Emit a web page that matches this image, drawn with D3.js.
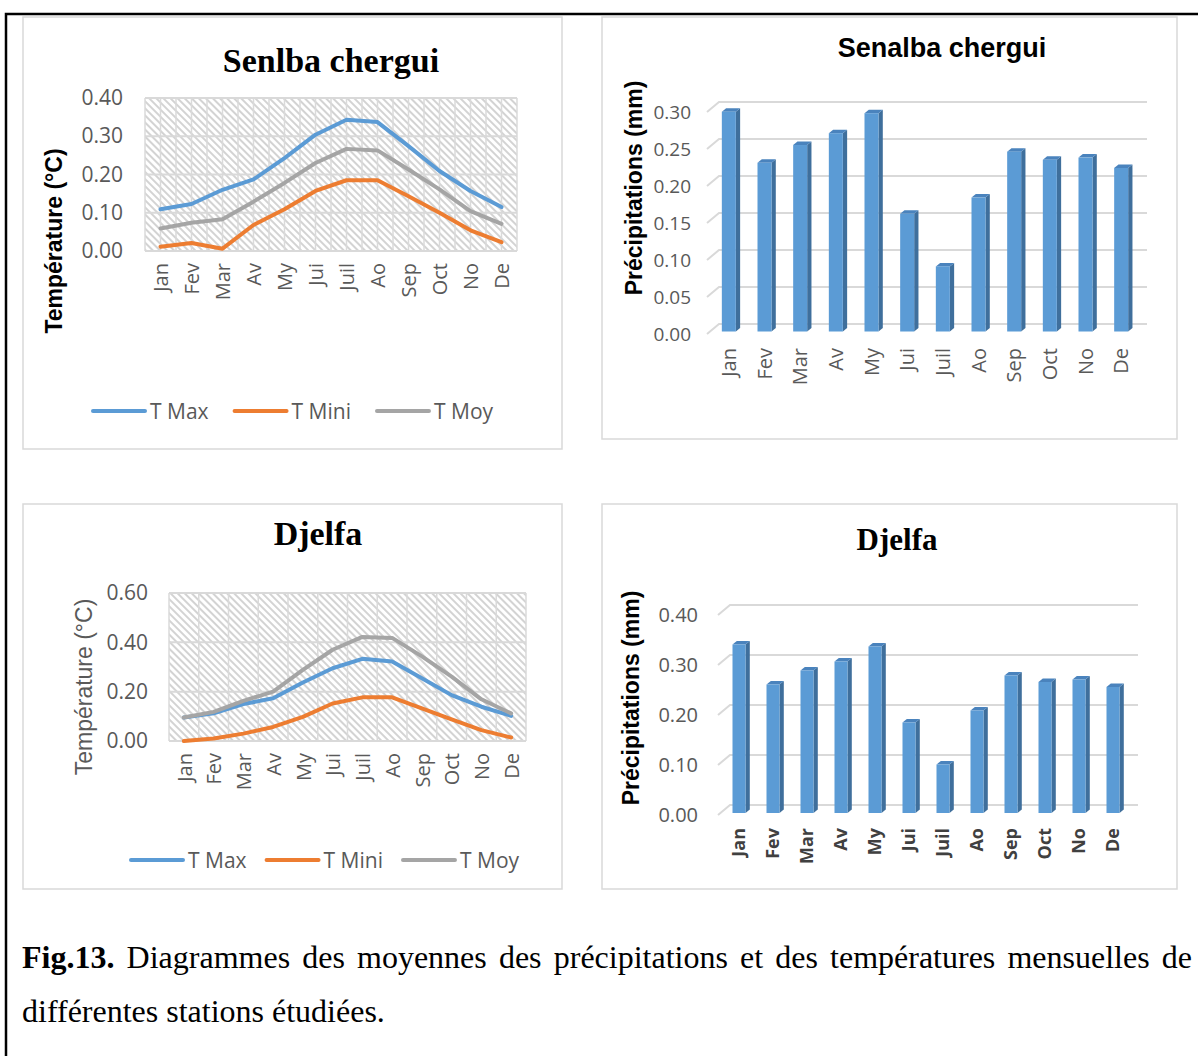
<!DOCTYPE html>
<html>
<head>
<meta charset="utf-8">
<script src="https://cdn.jsdelivr.net/npm/d3@7"></script>
<style>
  body { margin: 0; background: #fff; }
</style>
</head>
<body>
<div id="chart"></div>
<script>
// mois (axe des categories)
var months = ["Jan", "Fev", "Mar", "Av", "My", "Jui", "Juil", "Ao", "Sep", "Oct", "No", "De"];

// Senalba chergui - temperatures
var tmaxSenalba = [0.109, 0.123, 0.160, 0.187, 0.243, 0.304, 0.343, 0.337, 0.274, 0.209, 0.157, 0.115];
var tminiSenalba = [0.011, 0.021, 0.006, 0.068, 0.109, 0.157, 0.185, 0.185, 0.143, 0.100, 0.054, 0.023];
var tmoySenalba = [0.059, 0.074, 0.083, 0.129, 0.178, 0.230, 0.267, 0.263, 0.213, 0.161, 0.104, 0.071];

// Djelfa - temperatures
var tmaxDjelfa = [0.095, 0.112, 0.150, 0.173, 0.237, 0.295, 0.333, 0.322, 0.254, 0.186, 0.139, 0.102];
var tminiDjelfa = [0.000, 0.010, 0.030, 0.057, 0.098, 0.152, 0.177, 0.177, 0.132, 0.088, 0.044, 0.014];
var tmoyDjelfa = [0.095, 0.118, 0.163, 0.200, 0.288, 0.370, 0.422, 0.418, 0.343, 0.261, 0.169, 0.112];

// precipitations
var precSenalba = [0.297, 0.228, 0.252, 0.268, 0.295, 0.159, 0.088, 0.181, 0.243, 0.232, 0.235, 0.221];
var precDjelfa = [0.337, 0.257, 0.285, 0.303, 0.333, 0.181, 0.097, 0.205, 0.275, 0.262, 0.267, 0.252];

var seriesNames = ["T Max", "T Mini", "T Moy"];
var seriesColors = ["#5b9bd5", "#ed7d31", "#a5a5a5"];

var captionBold = "Fig.13.";
var captionLine1 = "Diagrammes des moyennes des précipitations et des températures mensuelles de";
var captionLine2 = "différentes stations étudiées.";

(function () {
  var width = 1198,
    height = 1056;

  var SANS = "'Open Sans', 'Liberation Sans', sans-serif";
  var ARIAL = "'Liberation Sans', Arial, sans-serif";
  var SERIF = "'Liberation Serif', 'Times New Roman', serif";
  var GRAY = "#595959";

  var svg = d3.select("#chart")
    .append("svg")
    .attr("width", width)
    .attr("height", height)
    .style("display", "block");

  svg.append("rect").attr("width", width).attr("height", height).attr("fill", "#fff");

  var defs = svg.append("defs");
  var pat = defs.append("pattern")
    .attr("id", "hatch")
    .attr("width", 5).attr("height", 5)
    .attr("patternUnits", "userSpaceOnUse")
    .attr("patternTransform", "rotate(-45)");
  pat.append("rect").attr("width", 5).attr("height", 5).attr("fill", "#fff");
  pat.append("line").attr("x1", 1).attr("y1", 0).attr("x2", 1).attr("y2", 5)
    .attr("stroke", "#d3d3d3").attr("stroke-width", 2);

  // cadre noir
  svg.append("path")
    .attr("d", "M6,1056 L6,14 L1198,14")
    .attr("fill", "none").attr("stroke", "#000").attr("stroke-width", 2.5);

  // panneaux
  var panels = [[23, 17, 539, 432], [602, 17, 575, 422], [23, 504, 539, 385], [602, 504, 575, 385]];
  svg.selectAll(".panel")
    .data(panels)
    .enter().append("rect")
    .attr("class", "panel")
    .attr("x", function (d) { return d[0]; })
    .attr("y", function (d) { return d[1]; })
    .attr("width", function (d) { return d[2]; })
    .attr("height", function (d) { return d[3]; })
    .attr("fill", "#fff")
    .attr("stroke", "#d9d9d9")
    .attr("stroke-width", 1.5);

  function lineChart(o) {
    var g = svg.append("g");
    var x = d3.scalePoint().domain(months).range([o.left, o.right]).padding(0.5);
    var y = d3.scaleLinear().domain([0, o.yMax]).range([o.bottom, o.top]);

    g.append("rect")
      .attr("x", o.left).attr("y", o.top)
      .attr("width", o.right - o.left).attr("height", o.bottom - o.top)
      .attr("fill", "url(#hatch)");

    var vStep = x.step() / o.vDiv;
    g.selectAll(".vgrid")
      .data(d3.range(0, months.length * o.vDiv + 1))
      .enter().append("line")
      .attr("x1", function (k) { return o.left + k * vStep; })
      .attr("x2", function (k) { return o.left + k * vStep; })
      .attr("y1", o.top).attr("y2", o.bottom)
      .attr("stroke", "#dadada").attr("stroke-width", 1.5);

    var ticks = d3.range(0, o.yMax + 1e-9, o.yStep);
    g.selectAll(".hgrid")
      .data(ticks)
      .enter().append("line")
      .attr("x1", o.left).attr("x2", o.right)
      .attr("y1", function (d) { return y(d); })
      .attr("y2", function (d) { return y(d); })
      .attr("stroke", "#d9d9d9").attr("stroke-width", 2);

    var yAxis = g.append("g")
      .attr("transform", "translate(" + o.left + ",0)")
      .call(d3.axisLeft(y).tickValues(ticks).tickFormat(d3.format(".2f")).tickSize(0).tickPadding(o.tickPad));
    yAxis.select(".domain").remove();
    yAxis.selectAll("text").attr("fill", GRAY).style("font-family", SANS).style("font-size", o.tickSize + "px");

    var xAxis = g.append("g")
      .attr("transform", "translate(0," + o.bottom + ")")
      .call(d3.axisBottom(x).tickSize(0));
    xAxis.select(".domain").remove();
    xAxis.selectAll("text")
      .attr("transform", "rotate(-90)")
      .attr("x", -(o.labelTop - o.bottom))
      .attr("y", 0)
      .attr("dy", "0.36em")
      .style("text-anchor", "end")
      .attr("fill", GRAY)
      .style("font-family", SANS)
      .style("font-size", o.xSize + "px");

    var line = d3.line()
      .x(function (d, i) { return x(months[i]); })
      .y(function (d) { return y(d); });

    o.series.forEach(function (s, i) {
      g.append("path")
        .datum(s)
        .attr("d", line)
        .attr("fill", "none")
        .attr("stroke", seriesColors[i])
        .attr("stroke-width", 4)
        .attr("stroke-linejoin", "round")
        .attr("stroke-linecap", "round");
    });

    g.append("text")
      .attr("x", o.titleX).attr("y", o.titleY)
      .attr("text-anchor", "middle")
      .style("font-family", SERIF).style("font-weight", "bold")
      .style("font-size", o.titleSize + "px")
      .attr("fill", "#000")
      .text(o.title);

    g.append("text")
      .attr("transform", "translate(" + o.yTitleX + "," + o.yTitleY + ") rotate(-90)")
      .attr("text-anchor", "middle")
      .attr("dy", "0.35em")
      .style("font-family", ARIAL)
      .style("font-weight", o.yTitleBold ? "bold" : "normal")
      .style("font-size", "23px")
      .attr("fill", o.yTitleBold ? "#000" : GRAY)
      .text("Température (°C)");

    // legende
    var lx = o.legendX;
    seriesNames.forEach(function (name, i) {
      g.append("line")
        .attr("x1", lx).attr("x2", lx + 52)
        .attr("y1", o.legendY).attr("y2", o.legendY)
        .attr("stroke", seriesColors[i]).attr("stroke-width", 4)
        .attr("stroke-linecap", "round");
      var t = g.append("text")
        .attr("x", lx + 57).attr("y", o.legendY)
        .attr("dy", "0.36em")
        .attr("fill", GRAY)
        .style("font-family", SANS).style("font-size", "21px")
        .text(name);
      lx = lx + 57 + t.node().getComputedTextLength() + o.legendGap;
    });
  }

  function barChart(o) {
    var g = svg.append("g");
    var x = d3.scaleBand().domain(months).range([o.left, o.right]);
    var y = d3.scaleLinear().domain([0, o.yMax]).range([o.bottom, o.top]);
    var ticks = d3.range(0, o.yMax + 1e-9, o.yStep);
    var bx = 12, by = -10;

    g.selectAll(".back")
      .data(ticks)
      .enter().append("path")
      .attr("d", function (d) {
        var yy = y(d);
        return "M" + o.left + "," + yy + " L" + (o.left + bx) + "," + (yy + by) +
          " L" + (o.right + bx) + "," + (yy + by);
      })
      .attr("fill", "none")
      .attr("stroke", "#d9d9d9").attr("stroke-width", 2);

    var yAxis = g.append("g")
      .attr("transform", "translate(" + o.left + ",0)")
      .call(d3.axisLeft(y).tickValues(ticks).tickFormat(d3.format(".2f")).tickSize(0).tickPadding(o.tickPad));
    yAxis.select(".domain").remove();
    yAxis.selectAll("text").attr("fill", GRAY).style("font-family", SANS).style("font-size", o.tickSize + "px");

    var xAxis = g.append("g")
      .attr("transform", "translate(" + o.barDx + "," + o.bottom + ")")
      .call(d3.axisBottom(x).tickSize(0));
    xAxis.select(".domain").remove();
    xAxis.selectAll("text")
      .attr("transform", "rotate(-90)")
      .attr("x", -(o.labelTop - o.bottom))
      .attr("y", 0)
      .attr("dy", "0.36em")
      .style("text-anchor", "end")
      .attr("fill", o.xColor)
      .style("font-family", SANS)
      .style("font-weight", o.xWeight)
      .style("font-size", o.xSize + "px");

    var dw = 4.3, dh = -3.5;
    var bars = g.selectAll(".bar")
      .data(o.values)
      .enter().append("g")
      .attr("class", "bar");

    function bx0(i) { return x(months[i]) + x.bandwidth() / 2 + o.barDx - o.barW / 2; }
    function yb(d) { return y(d) + o.barDy; }

    bars.append("path")
      .attr("d", function (d, i) {
        var x1 = bx0(i) + o.barW, yt = yb(d), y0 = yb(0);
        return "M" + x1 + "," + yt + " L" + (x1 + dw) + "," + (yt + dh) +
          " L" + (x1 + dw) + "," + (y0 + dh) + " L" + x1 + "," + y0 + "Z";
      })
      .attr("fill", "#3f6f9c");
    bars.append("path")
      .attr("d", function (d, i) {
        var x0 = bx0(i), yt = yb(d);
        return "M" + x0 + "," + yt + " L" + (x0 + dw) + "," + (yt + dh) +
          " L" + (x0 + o.barW + dw) + "," + (yt + dh) + " L" + (x0 + o.barW) + "," + yt + "Z";
      })
      .attr("fill", "#4a83bd");
    bars.append("rect")
      .attr("x", function (d, i) { return bx0(i); })
      .attr("y", function (d) { return yb(d); })
      .attr("width", o.barW)
      .attr("height", function (d) { return yb(0) - yb(d); })
      .attr("fill", "#5b9bd5");

    g.append("text")
      .attr("x", o.titleX).attr("y", o.titleY)
      .attr("text-anchor", "middle")
      .style("font-family", o.titleFont).style("font-weight", "bold")
      .style("font-size", o.titleSize + "px")
      .attr("fill", "#000")
      .text(o.title);

    g.append("text")
      .attr("transform", "translate(" + o.yTitleX + "," + o.yTitleY + ") rotate(-90)")
      .attr("text-anchor", "middle")
      .attr("dy", "0.35em")
      .style("font-family", ARIAL).style("font-weight", "bold")
      .style("font-size", "23px")
      .attr("fill", "#000")
      .text("Précipitations (mm)");
  }

  lineChart({
    left: 145, right: 517, top: 98, bottom: 251, yMax: 0.4, yStep: 0.1, vDiv: 2,
    tickPad: 22, tickSize: 21, xSize: 20, labelTop: 263,
    series: [tmaxSenalba, tminiSenalba, tmoySenalba],
    title: "Senlba chergui", titleX: 331, titleY: 72, titleSize: 34,
    yTitleX: 54, yTitleY: 241, yTitleBold: true,
    legendX: 93, legendY: 411, legendGap: 26
  });

  lineChart({
    left: 169, right: 526, top: 593, bottom: 741, yMax: 0.6, yStep: 0.2, vDiv: 1,
    tickPad: 21, tickSize: 21, xSize: 20, labelTop: 753,
    series: [tmaxDjelfa, tminiDjelfa, tmoyDjelfa],
    title: "Djelfa", titleX: 318, titleY: 545, titleSize: 34,
    yTitleX: 84, yTitleY: 687, yTitleBold: false,
    legendX: 131, legendY: 860, legendGap: 20
  });

  barChart({
    left: 707, right: 1135, top: 112, bottom: 334, yMax: 0.3, yStep: 0.05,
    tickPad: 16, tickSize: 19, xSize: 20, xColor: GRAY, xWeight: "normal", labelTop: 348,
    barW: 14, barDx: 4, barDy: -2.5, values: precSenalba,
    title: "Senalba chergui", titleX: 942, titleY: 57, titleSize: 27, titleFont: ARIAL,
    yTitleX: 634, yTitleY: 188
  });

  barChart({
    left: 718, right: 1126, top: 615, bottom: 815, yMax: 0.4, yStep: 0.1,
    tickPad: 20, tickSize: 20, xSize: 18, xColor: "#404040", xWeight: "bold", labelTop: 828,
    barW: 13, barDx: 4, barDy: -2, values: precDjelfa,
    title: "Djelfa", titleX: 897, titleY: 550, titleSize: 31, titleFont: SERIF,
    yTitleX: 631, yTitleY: 698
  });

  // legende de la figure (justifiee sur la premiere ligne)
  var cap = svg.append("g").style("font-family", SERIF).style("font-size", "32px").attr("fill", "#000");
  var words = [captionBold].concat(captionLine1.split(" "));
  var nodes = words.map(function (w, i) {
    return cap.append("text").attr("y", 968).style("font-weight", i === 0 ? "bold" : "normal").text(w);
  });
  var total = d3.sum(nodes, function (n) { return n.node().getComputedTextLength(); });
  var gap = (1192 - 22 - total) / (words.length - 1);
  var cx = 22;
  nodes.forEach(function (n) {
    n.attr("x", cx);
    cx += n.node().getComputedTextLength() + gap;
  });
  cap.append("text").attr("x", 22).attr("y", 1022).text(captionLine2);
})();
</script>
</body>
</html>
